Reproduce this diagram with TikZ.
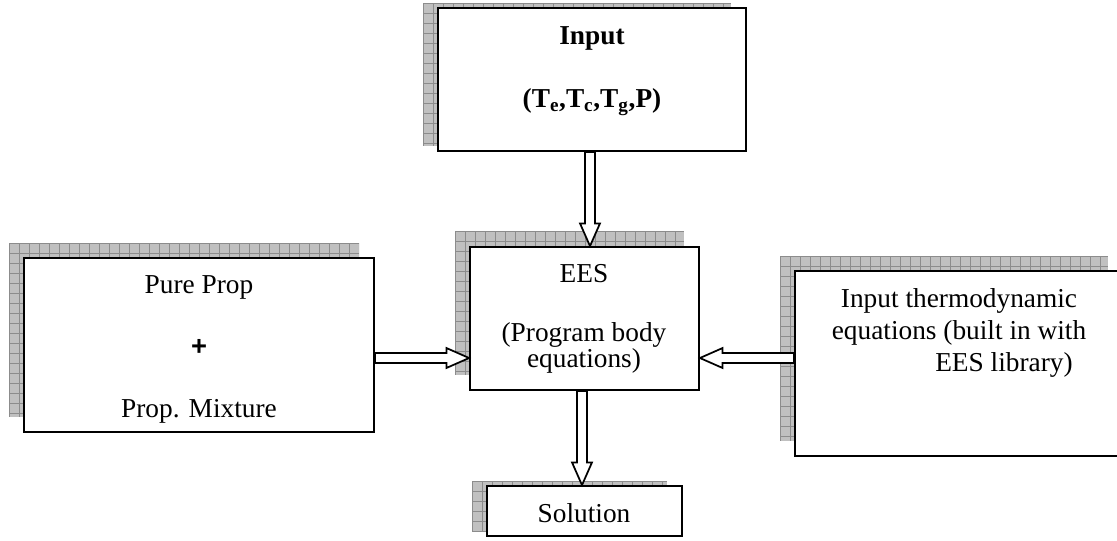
\documentclass[tikz,border=0pt]{standalone}
\usepackage{fontspec}
\setmainfont{Liberation Serif}
\newfontfamily\plusfont{Liberation Sans}
\usetikzlibrary{calc}
\definecolor{shfill}{RGB}{192,192,192}
\definecolor{shgrid}{RGB}{140,140,140}
\tikzset{
  box/.style={draw=black, line width=1.4pt, fill=white, inner sep=0pt},
  txt/.style={inner sep=0pt, font=\fontsize{20.5}{24}\selectfont, anchor=base},
  barrow/.style={draw=black, fill=white, line width=1.3pt, line join=miter,
    to path={
      let \p1=(\tikztostart), \p2=(\tikztotarget),
          \n1={atan2(\y2-\y1,\x2-\x1)}, \n2={veclen(\x2-\x1,\y2-\y1)} in
      ([shift={(\p1)},rotate=\n1]0pt,3.75pt)
      -- ([shift={(\p1)},rotate=\n1]{\n2-17pt},3.75pt)
      -- ([shift={(\p1)},rotate=\n1]{\n2-17pt},7.5pt)
      -- ([shift={(\p1)},rotate=\n1]{\n2},0pt)
      -- ([shift={(\p1)},rotate=\n1]{\n2-17pt},-7.5pt)
      -- ([shift={(\p1)},rotate=\n1]{\n2-17pt},-3.75pt)
      -- ([shift={(\p1)},rotate=\n1]0pt,-3.75pt) -- cycle
    }},
}
\newcommand\gridshadow[4]{%
  \begin{scope}
    \clip (#1,#2) rectangle (#3,#4);
    \fill[shfill] (#1,#2) rectangle (#3,#4);
    \foreach \g in {0,10,...,400} {
      \draw[shgrid, line width=0.45pt] (#1+\g,#2) -- (#1+\g,#4);
      \draw[shgrid, line width=0.45pt] (#1,#2+\g) -- (#3,#2+\g);
    }
  \end{scope}}
\begin{document}
\begin{tikzpicture}[x=0.75pt,y=-0.75pt]
\useasboundingbox (0,0) rectangle (1117,540);
% shadows
\gridshadow{423}{3}{731}{146}
\gridshadow{455}{231}{684}{375}
\gridshadow{9}{243}{359}{417}
\gridshadow{780}{256}{1108}{441}
\gridshadow{472}{481}{667}{531}
% boxes
\node[box, minimum width=231pt, minimum height=107.25pt] (in) at (592,79.5) {};
\node[box, minimum width=171.75pt, minimum height=107.25pt] (ees) at (584.5,318.5) {};
\node[box, minimum width=262.5pt, minimum height=130.5pt] (lb) at (199,345) {};
\node[box, minimum width=246pt, minimum height=138.75pt] (rb) at (959,363.5) {};
\node[box, minimum width=146.25pt, minimum height=37.5pt] (sol) at (584.5,511) {};
% texts
\node[txt, font=\fontsize{20.5}{24}\selectfont\bfseries] (t1) at (592,44) {Input};
\node[txt, font=\fontsize{20.5}{24}\selectfont\bfseries] (t2) at (592,107) {(T\textsubscript{e},T\textsubscript{c},T\textsubscript{g},P)};
\node[txt] (t3) at (584,282) {EES};
\node[txt] (t4) at (584,341) {(Program body};
\node[txt] (t5) at (584,367) {equations)};
\node[txt] (t6) at (199,293) {Pure Prop};
\node[txt, font=\fontsize{20.5}{24}\selectfont\plusfont\bfseries] (t7) at (199,355) {+};
\node[txt] (t8) at (199,417) {Prop. Mixture};
\node[txt] (t9) at (959,307) {Input thermodynamic};
\node[txt] (t10) at (959,339) {equations (built in with};
\node[txt, anchor=base west] (t11) at (935,371) {EES library)};
\node[txt] (t12) at (584,522) {Solution};
% arrow guide coordinates
\coordinate (ax1) at (590,0);
\coordinate (ax2) at (582,0);
\coordinate (ay) at (0,358);
% arrows
\draw[barrow] (in.south -| ax1) to (ees.north -| ax1);
\draw[barrow] (ees.south -| ax2) to (sol.north -| ax2);
\draw[barrow] (lb.east |- ay) to (ees.west |- ay);
\draw[barrow] (rb.west |- ay) to (ees.east |- ay);
\end{tikzpicture}
\end{document}
